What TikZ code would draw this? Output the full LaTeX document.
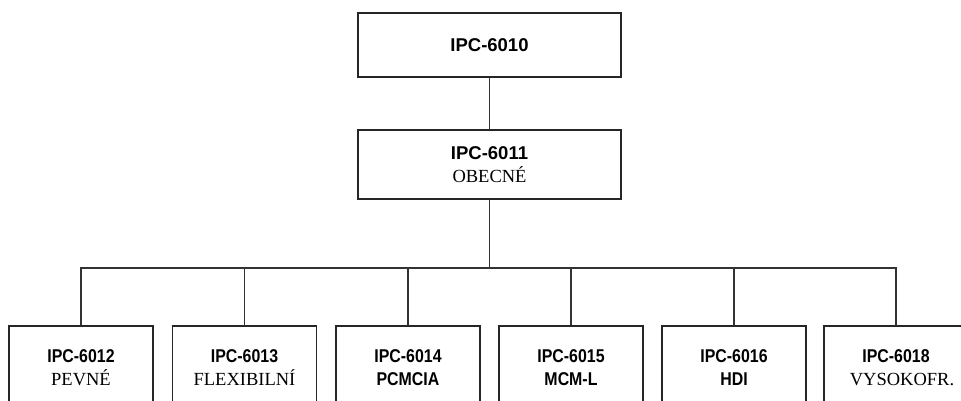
\documentclass[tikz,border=0pt]{standalone}
\usepackage{fontspec}
\setmainfont{Liberation Serif}
\setsansfont{Liberation Sans}
\newfontfamily\narrowsf[FakeStretch=0.86]{Liberation Sans}
\usetikzlibrary{positioning}

\begin{document}
\begin{tikzpicture}[
    x=1pt, y=-1pt,
    box/.style = {rectangle, draw=black!85, line width=1.8pt, fill=white, align=center, font=\fontsize{18.5}{23}\selectfont},
    headbox/.style = {box, minimum width=263pt},
    leafbox/.style = {box, minimum width=144pt, minimum height=84pt},
    link/.style = {draw=black!80, line width=1.6pt},
    node distance = 51pt
]
\useasboundingbox (0,0) rectangle (961,401);
\clip (0,0) rectangle (961,401);

\node[headbox, minimum height=64pt] (ipc6010) at (489.5,45) {\sffamily\bfseries IPC-6010};
\node[headbox, minimum height=69pt, below=of ipc6010] (ipc6011) {\sffamily\bfseries IPC-6011\\\rmfamily OBECNÉ};

% odvozene normy
\node[leafbox] (ipc6012) at (81,368) {\narrowsf\bfseries IPC-6012\\\rmfamily PEVNÉ};
\node[leafbox] (ipc6013) at (244.5,368) {\narrowsf\bfseries IPC-6013\\\rmfamily FLEXIBILNÍ};
\node[leafbox] (ipc6014) at (408,368) {\narrowsf\bfseries IPC-6014\\\narrowsf\bfseries PCMCIA};
\node[leafbox] (ipc6015) at (571,368) {\narrowsf\bfseries IPC-6015\\\narrowsf\bfseries MCM-L};
\node[leafbox] (ipc6016) at (734,368) {\narrowsf\bfseries IPC-6016\\\narrowsf\bfseries HDI};
\node[leafbox] (ipc6018) at (896,368) {\narrowsf\bfseries IPC-6018\\\rmfamily\hspace*{12pt}VYSOKOFR.};

\coordinate (bus) at (489.5,268);
\draw[link] (ipc6010) -- (ipc6011);
\draw[link] (ipc6011) -- (bus);
\foreach \n in {ipc6012,ipc6013,ipc6014,ipc6015,ipc6016,ipc6018}
    \draw[link] (\n.north) |- (bus);
\end{tikzpicture}
\end{document}
